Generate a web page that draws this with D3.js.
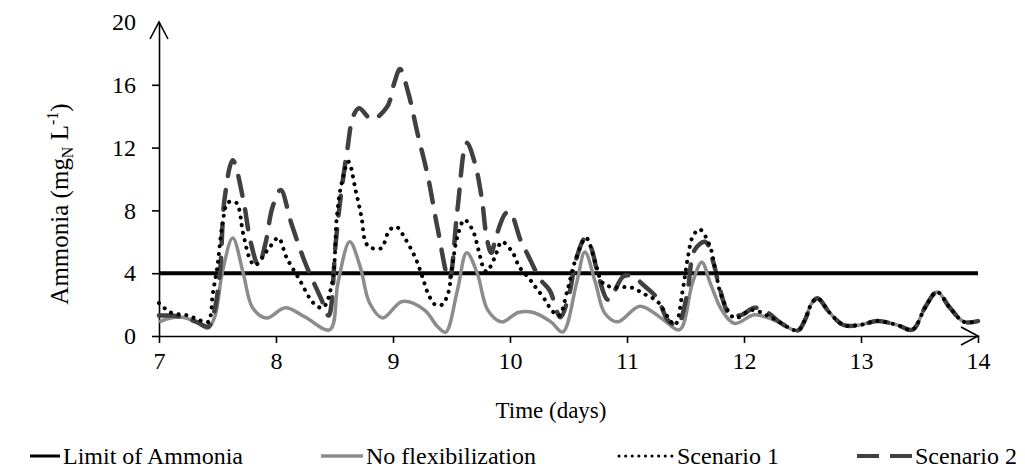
<!DOCTYPE html>
<html>
<head>
<meta charset="utf-8">
<script src="https://cdn.jsdelivr.net/npm/d3@7"></script>
<style>
  body { margin: 0; background: #fff; }
  svg, svg text { font-family: "Liberation Serif", "Times New Roman", serif; }
</style>
</head>
<body>
<svg id="chart" width="1025" height="473"></svg>
<script>
// Data ([day, mg N/L])
const limitOfAmmonia = 4;

const noFlexibilization = [
  [7.00, 0.9], [7.10, 1.15], [7.20, 1.2], [7.32, 0.9], [7.42, 0.5], [7.48, 1.3], [7.54, 4.0],
  [7.63, 6.25], [7.72, 4.0], [7.80, 1.8], [7.92, 1.15], [8.08, 1.8], [8.25, 1.2], [8.46, 0.4],
  [8.53, 3.4], [8.63, 6.0], [8.72, 4.4], [8.80, 2.1], [8.91, 1.15], [9.08, 2.2], [9.27, 1.65],
  [9.38, 0.6], [9.45, 0.25], [9.55, 2.9], [9.63, 5.3], [9.72, 4.0], [9.81, 1.65], [9.93, 0.9],
  [10.07, 1.5], [10.20, 1.5], [10.35, 0.9], [10.45, 0.25], [10.57, 3.4], [10.64, 5.35],
  [10.73, 3.4], [10.81, 1.45], [10.92, 0.9], [11.11, 1.9], [11.30, 1.1], [11.45, 0.4],
  [11.56, 3.4], [11.64, 4.7], [11.71, 3.4], [11.81, 1.65], [11.92, 0.8], [12.09, 1.35],
  [12.26, 1.0], [12.46, 0.35], [12.52, 1.0], [12.58, 2.1], [12.63, 2.4], [12.73, 1.5],
  [12.85, 0.7], [12.99, 0.7], [13.14, 0.95], [13.31, 0.7], [13.44, 0.4], [13.55, 1.85],
  [13.65, 2.8], [13.76, 1.8], [13.88, 0.9], [14.00, 0.95]
];

const scenario1 = [
  [7.00, 2.1], [7.10, 1.5], [7.25, 1.3], [7.35, 1.0], [7.42, 0.9], [7.46, 2.7], [7.50, 4.5],
  [7.54, 7.0], [7.59, 8.5], [7.66, 8.5], [7.72, 6.5], [7.78, 4.85], [7.82, 4.5], [7.95, 5.7],
  [8.02, 6.25], [8.09, 5.0], [8.20, 3.6], [8.32, 2.1], [8.40, 1.8], [8.48, 3.4], [8.52, 7.6],
  [8.56, 9.7], [8.62, 11.1], [8.68, 9.3], [8.73, 7.6], [8.77, 5.9], [8.82, 5.6], [8.90, 5.6],
  [8.97, 6.75], [9.03, 6.95], [9.10, 6.25], [9.19, 5.0], [9.25, 3.8], [9.30, 2.7], [9.36, 2.0],
  [9.42, 2.0], [9.47, 2.7], [9.51, 4.65], [9.55, 6.3], [9.61, 7.4], [9.68, 6.75], [9.73, 5.5],
  [9.77, 4.4], [9.80, 4.1], [9.87, 5.0], [9.93, 6.0], [10.02, 5.35], [10.08, 4.4], [10.17, 3.6],
  [10.22, 3.1], [10.30, 2.3], [10.36, 1.6], [10.42, 1.3], [10.49, 2.9], [10.56, 4.85],
  [10.65, 6.25], [10.73, 4.65], [10.79, 3.4], [10.88, 3.1], [11.03, 3.1], [11.14, 2.7],
  [11.26, 2.2], [11.35, 1.2], [11.41, 0.7], [11.48, 3.1], [11.52, 5.0], [11.56, 6.3],
  [11.62, 6.8], [11.71, 5.7], [11.75, 4.4], [11.81, 2.5], [11.92, 1.15], [12.07, 1.65],
  [12.24, 1.15], [12.46, 0.35], [12.52, 1.0], [12.58, 2.1], [12.63, 2.4], [12.73, 1.5],
  [12.85, 0.7], [12.99, 0.7], [13.14, 0.95], [13.31, 0.7], [13.44, 0.4], [13.55, 1.85],
  [13.65, 2.8], [13.76, 1.8], [13.88, 0.9], [14.00, 0.95]
];

const scenario2 = [
  [7.00, 1.3], [7.10, 1.3], [7.20, 1.2], [7.32, 0.9], [7.42, 0.6], [7.47, 1.5], [7.52, 4.0],
  [7.56, 8.7], [7.63, 11.2], [7.72, 8.7], [7.78, 6.1], [7.85, 4.5], [7.91, 5.9], [7.97, 8.2],
  [8.04, 9.3], [8.13, 7.2], [8.25, 4.65], [8.39, 2.3], [8.45, 1.3], [8.51, 5.9], [8.55, 8.7],
  [8.61, 11.9], [8.66, 14.0], [8.71, 14.5], [8.82, 13.8], [8.95, 14.6], [9.01, 16.1],
  [9.06, 17.0], [9.13, 15.5], [9.21, 12.9], [9.30, 10.1], [9.38, 6.9], [9.48, 3.6], [9.55, 8.0],
  [9.63, 12.3], [9.70, 11.0], [9.76, 8.7], [9.80, 6.3], [9.84, 5.3], [9.88, 6.3], [9.96, 7.8],
  [10.00, 7.9], [10.09, 6.1], [10.15, 5.2], [10.26, 3.6], [10.34, 2.9], [10.43, 1.2],
  [10.50, 2.5], [10.57, 5.0], [10.64, 6.2], [10.69, 5.7], [10.75, 4.0], [10.84, 2.3],
  [10.97, 3.8], [11.05, 3.8], [11.14, 3.25], [11.26, 2.4], [11.35, 1.0], [11.43, 0.7],
  [11.51, 2.5], [11.58, 5.5], [11.67, 6.0], [11.74, 4.65], [11.79, 3.1], [11.88, 1.35],
  [11.98, 1.35], [12.09, 1.8], [12.20, 1.5], [12.32, 0.8], [12.46, 0.35], [12.52, 1.0],
  [12.58, 2.1], [12.63, 2.4], [12.73, 1.5], [12.85, 0.7], [12.99, 0.7], [13.14, 0.95],
  [13.31, 0.7], [13.44, 0.4], [13.55, 1.85], [13.65, 2.8], [13.76, 1.8], [13.88, 0.9],
  [14.00, 0.95]
];

const xTicks = [7, 8, 9, 10, 11, 12, 13, 14];
const yTicks = [0, 4, 8, 12, 16, 20];
const legendLabels = ["Limit of Ammonia", "No flexibilization", "Scenario 1", "Scenario 2"];

// Setup
const serif = "Liberation Serif, Times New Roman, serif";
const svg = d3.select("#chart");
const x = d3.scaleLinear().domain([7, 14]).range([159, 978]);
const y = d3.scaleLinear().domain([0, 20]).range([336, 22]);

// Axes
const yAxis = svg.append("g")
  .attr("transform", `translate(${x(7)},0)`)
  .call(d3.axisLeft(y).tickValues(yTicks).tickFormat(d3.format("d"))
    .tickSize(7).tickSizeOuter(0).tickPadding(16));
yAxis.selectAll(".tick line").filter(d => d === 20).remove();

const xAxis = svg.append("g")
  .attr("transform", `translate(0,${y(0)})`)
  .call(d3.axisBottom(x).tickValues(xTicks).tickFormat(d3.format("d"))
    .tickSize(7).tickSizeOuter(0).tickPadding(9));

[yAxis, xAxis].forEach(g => {
  g.attr("font-family", serif);
  g.select(".domain").attr("stroke", "#000").attr("stroke-width", 1.6);
  g.selectAll(".tick line").attr("stroke", "#000").attr("stroke-width", 1.6);
  g.selectAll(".tick text").attr("fill", "#000").attr("font-size", 24);
});

// Arrow heads
const arrow = d3.line();
svg.append("path")
  .attr("d", arrow([[x(7) - 9, y(20) + 17], [x(7), y(20)], [x(7) + 9, y(20) + 17]]))
  .attr("fill", "none").attr("stroke", "#000").attr("stroke-width", 1.6);
svg.append("path")
  .attr("d", arrow([[x(14) - 17, y(0) - 9], [x(14), y(0)], [x(14) - 17, y(0) + 9]]))
  .attr("fill", "none").attr("stroke", "#000").attr("stroke-width", 1.6);

// Axis titles
svg.append("text")
  .attr("x", 551).attr("y", 418)
  .attr("text-anchor", "middle")
  .attr("font-size", 23)
  .text("Time (days)");

const yTitle = svg.append("text")
  .attr("transform", "translate(68,204) rotate(-90)")
  .attr("text-anchor", "middle")
  .attr("font-size", 25);
yTitle.append("tspan").text("Ammonia (mg");
yTitle.append("tspan").attr("font-size", 16).attr("dy", 5).text("N");
yTitle.append("tspan").attr("dy", -5).text(" L");
yTitle.append("tspan").attr("font-size", 16).attr("dy", -10).text("-1");
yTitle.append("tspan").attr("dy", 10).text(")");

// Series
const line = d3.line()
  .x(d => x(d[0]))
  .y(d => y(d[1]))
  .curve(d3.curveCatmullRom.alpha(0.5));

const plot = svg.append("g");

plot.append("path")
  .attr("d", line([[7, limitOfAmmonia], [14, limitOfAmmonia]]))
  .attr("stroke", "#000").attr("stroke-width", 4).attr("fill", "none");

plot.append("path")
  .attr("d", line(noFlexibilization))
  .attr("stroke", "#8c8c8c").attr("stroke-width", 3.5).attr("fill", "none");

plot.append("path")
  .attr("d", line(scenario2))
  .attr("stroke", "#404040").attr("stroke-width", 4.5).attr("fill", "none")
  .attr("stroke-linecap", "round")
  .attr("stroke-dasharray", "20 14");

plot.append("path")
  .attr("d", line(scenario1))
  .attr("stroke", "#000").attr("stroke-width", 4).attr("fill", "none")
  .attr("stroke-linecap", "round")
  .attr("stroke-dasharray", "0.1 7.6");

// Legend
const legendY = 464;
const legendItems = [
  { label: legendLabels[0], x: 30, len: 30, stroke: "#000", width: 3, dash: null, cap: "butt" },
  { label: legendLabels[1], x: 321, len: 42, stroke: "#8c8c8c", width: 3.5, dash: null, cap: "butt" },
  { label: legendLabels[2], x: 619, len: 55, stroke: "#000", width: 3, dash: "0.1 6.5", cap: "round" },
  { label: legendLabels[3], x: 857, len: 55, stroke: "#404040", width: 4, dash: "22 11", cap: "butt" }
];

const legend = svg.append("g");
legendItems.forEach(it => {
  legend.append("line")
    .attr("x1", it.x).attr("x2", it.x + it.len)
    .attr("y1", legendY - 8).attr("y2", legendY - 8)
    .attr("stroke", it.stroke).attr("stroke-width", it.width)
    .attr("stroke-linecap", it.cap)
    .attr("stroke-dasharray", it.dash);
  legend.append("text")
    .attr("x", it.x + it.len + 3).attr("y", legendY)
    .attr("font-size", 24)
    .text(it.label);
});
</script>
</body>
</html>
